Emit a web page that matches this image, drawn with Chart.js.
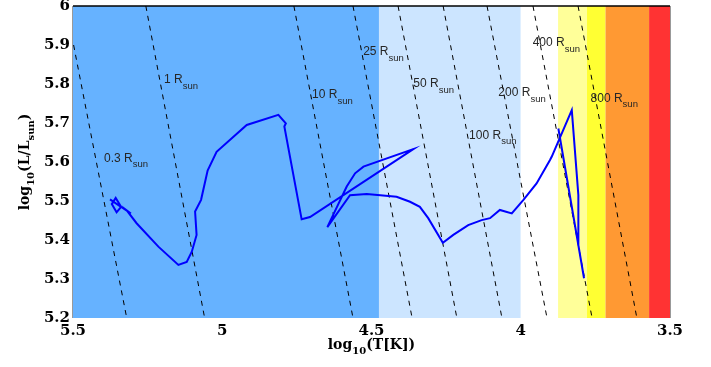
<!DOCTYPE html>
<html>
<head>
<meta charset="utf-8">
<script src="https://cdn.jsdelivr.net/npm/chart.js@4.4.1/dist/chart.umd.min.js"></script>
<style>
  html, body { margin: 0; padding: 0; background: #fff; }
</style>
</head>
<body>
<canvas id="hrChart" width="711" height="367"></canvas>
<script>
// evolutionary track (log T, log L)
var trackT = [5.376, 5.339, 5.354, 5.370, 5.357, 5.339, 5.306, 5.320, 5.287, 5.214, 5.147, 5.119, 5.102, 5.086,
              5.091, 5.071, 5.049, 5.019, 4.918, 4.812, 4.787, 4.792, 4.734, 4.706, 4.360, 4.527, 4.555, 4.583,
              4.648, 4.572, 4.516, 4.416, 4.371, 4.338, 4.310, 4.261, 4.226, 4.176, 4.131, 4.103, 4.070, 4.030,
              3.991, 3.947, 3.902, 3.896, 3.829, 3.807, 3.807, 3.788, 3.874];
var trackL = [5.504, 5.485, 5.471, 5.492, 5.508, 5.485, 5.468, 5.476, 5.443, 5.383, 5.336, 5.344, 5.370, 5.413,
              5.473, 5.503, 5.578, 5.626, 5.695, 5.721, 5.699, 5.691, 5.453, 5.459, 5.633, 5.588, 5.571, 5.537,
              5.433, 5.515, 5.518, 5.511, 5.498, 5.485, 5.456, 5.393, 5.413, 5.438, 5.451, 5.456, 5.477, 5.468,
              5.503, 5.545, 5.605, 5.614, 5.733, 5.515, 5.387, 5.302, 5.686];

// constant radius lines, end points
var radiusNames = ['0.3', '1', '10', '25', '50', '100', '200', '400', '800'];
var radiusTopT = [5.498, 5.256, 4.760, 4.562, 4.411, 4.260, 4.113, 3.959, 3.808];
var radiusTopL = [5.9, 6, 6, 6, 6, 6, 6, 6, 6];
var radiusBotT = [5.320, 5.059, 4.562, 4.364, 4.214, 4.063, 3.912, 3.761, 3.611];
var radiusBotL = [5.2, 5.2, 5.2, 5.2, 5.2, 5.2, 5.2, 5.2, 5.2];
var labelT = [5.396, 5.195, 4.699, 4.528, 4.360, 4.173, 4.075, 3.960, 3.766];
var labelL = [5.609, 5.810, 5.772, 5.882, 5.800, 5.667, 5.777, 5.905, 5.762];

// spectral class bands (log T edges)
var bandEdges = [5.5, 4.475, 4.0, 3.875, 3.778, 3.716, 3.57, 3.5];
var bandColors = ['#66b2ff', '#cce5ff', '#ffffff', '#ffff99', '#ffff33', '#ff9933', '#ff3333'];

var serif = '"DejaVu Serif", serif';
var sans = '"Liberation Sans", Arial, sans-serif';

function tickText(v) {
    return String(Math.round(v * 10) / 10);
}

// draws text pieces in a row, pieces = [text, font, dy]
function drawPieces(ctx, x, y, pieces, center) {
    var total = 0;
    pieces.forEach(function (p) { ctx.font = p[1]; total += ctx.measureText(p[0]).width; });
    var cx = center ? x - total / 2 : x;
    pieces.forEach(function (p) {
        ctx.font = p[1];
        ctx.fillText(p[0], cx, y + p[2]);
        cx += ctx.measureText(p[0]).width;
    });
}

var bandsPlugin = {
    id: 'bands',
    beforeDatasetsDraw: function (chart) {
        var ctx = chart.ctx, a = chart.chartArea, xs = chart.scales.x;
        ctx.save();
        for (var i = 0; i < bandColors.length; i++) {
            var x0 = xs.getPixelForValue(bandEdges[i]);
            var x1 = xs.getPixelForValue(bandEdges[i + 1]);
            ctx.fillStyle = bandColors[i];
            ctx.fillRect(x0, a.top, x1 - x0, a.bottom - a.top);
        }
        ctx.restore();
    }
};

var textPlugin = {
    id: 'texts',
    afterDraw: function (chart) {
        var ctx = chart.ctx, a = chart.chartArea, xs = chart.scales.x, ys = chart.scales.y;
        ctx.save();
        // box lines
        ctx.strokeStyle = '#000';
        ctx.lineWidth = 1.5;
        ctx.beginPath();
        ctx.moveTo(a.left, a.top);
        ctx.lineTo(a.right, a.top);
        ctx.stroke();
        ctx.strokeStyle = '#999';
        ctx.lineWidth = 1;
        ctx.beginPath();
        ctx.moveTo(a.right + 0.5, a.top);
        ctx.lineTo(a.right + 0.5, a.bottom);
        ctx.moveTo(a.left - 0.5, a.top);
        ctx.lineTo(a.left - 0.5, a.bottom);
        ctx.stroke();

        // radius labels
        ctx.fillStyle = '#262626';
        ctx.textBaseline = 'middle';
        ctx.textAlign = 'left';
        for (var i = 0; i < radiusNames.length; i++) {
            drawPieces(ctx, xs.getPixelForValue(labelT[i]), ys.getPixelForValue(labelL[i]), [
                [radiusNames[i] + ' R', '12px ' + sans, 0],
                ['sun', '9.5px ' + sans, 6]
            ], false);
        }

        // axis titles
        ctx.fillStyle = '#000';
        ctx.textBaseline = 'alphabetic';
        var main = 'bold 14px ' + serif, sub = 'bold 10px ' + serif;
        drawPieces(ctx, (a.left + a.right) / 2, 349, [
            ['log', main, 0], ['10', sub, 5], ['(T[K])', main, 0]
        ], true);
        ctx.translate(29, (a.top + a.bottom) / 2);
        ctx.rotate(-Math.PI / 2);
        drawPieces(ctx, 0, 0, [
            ['log', main, 0], ['10', sub, 5], ['(L/L', main, 0], ['sun', sub, 5], [')', main, 0]
        ], true);
        ctx.restore();
    }
};

var datasets = [{
    label: 'track',
    data: trackT.map(function (t, i) { return { x: t, y: trackL[i] }; }),
    showLine: true,
    borderColor: '#0000ff',
    borderWidth: 2,
    pointRadius: 0,
    tension: 0
}];
radiusNames.forEach(function (r, i) {
    datasets.push({
        label: r + ' Rsun',
        data: [{ x: radiusTopT[i], y: radiusTopL[i] }, { x: radiusBotT[i], y: radiusBotL[i] }],
        showLine: true,
        borderColor: '#000',
        borderWidth: 1,
        borderDash: [5, 5],
        pointRadius: 0
    });
});

var ctxHr = document.getElementById('hrChart').getContext('2d');
var hrChart = new Chart(ctxHr, {
    type: 'scatter',
    data: { datasets: datasets },
    plugins: [bandsPlugin, textPlugin],
    options: {
        responsive: false,
        animation: false,
        layout: { padding: { left: 0, right: 41, top: 6, bottom: 0 } },
        plugins: {
            legend: { display: false },
            tooltip: { enabled: false }
        },
        scales: {
            x: {
                type: 'linear',
                reverse: true,
                min: 3.5,
                max: 5.5,
                grid: { display: false, drawTicks: false },
                border: { display: false },
                ticks: {
                    stepSize: 0.5,
                    padding: 4,
                    color: '#000',
                    font: { family: serif, size: 15, weight: 'bold' },
                    callback: tickText
                },
                afterFit: function (s) { s.height = 49; s.paddingLeft = 0; s.paddingRight = 0; }
            },
            y: {
                type: 'linear',
                min: 5.2,
                max: 6,
                grid: { display: false, drawTicks: false },
                border: { display: false },
                ticks: {
                    stepSize: 0.1,
                    padding: 3,
                    color: '#000',
                    font: { family: serif, size: 15, weight: 'bold' },
                    callback: tickText
                },
                afterFit: function (s) { s.width = 73; s.paddingTop = 0; s.paddingBottom = 0; }
            }
        }
    }
});
</script>
</body>
</html>
